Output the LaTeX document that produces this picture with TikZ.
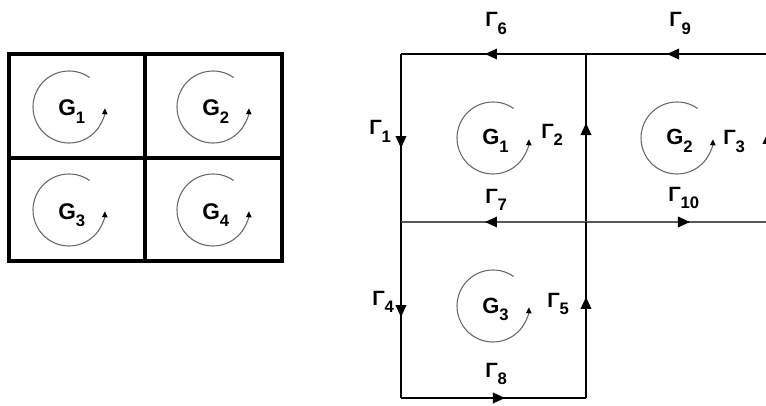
\documentclass[tikz,border=0pt]{standalone}
\usepackage{fontspec}
\setmainfont{Liberation Sans}
\usetikzlibrary{arrows.meta,decorations.markings}
\newcommand\lab[3]{{\fontsize{#3}{#3}\selectfont\bfseries #1}\raisebox{-5.5pt}{\fontsize{12.5}{13}\selectfont\bfseries #2}}
\begin{document}
\begin{tikzpicture}[x=0.75pt,y=-0.75pt,
  edge/.style={line width=1pt,draw=black},
  midedge/.style={line width=1pt,draw=black!65},
  marr/.style={postaction={decorate},decoration={markings,mark=at position #1 with {\arrow[black]{Triangle[length=9pt,width=8pt]}}}},
  rot/.style={draw=black!60,line width=0.8pt,-{Triangle[length=4.5pt,width=4pt,black]}},
  txt/.style={inner sep=0pt,anchor=base west},
  thick grid/.style={line width=2.3pt,draw=black}]
\useasboundingbox (0,0) rectangle (766,406);
\clip (0,0) rectangle (766,406);
% ---------- left grid ----------
\coordinate (ltl) at (9,54);
\coordinate (ltm) at (145,54);
\coordinate (ltr) at (282,54);
\coordinate (lml) at (9,158);
\coordinate (lmr) at (282,158);
\coordinate (lbl) at (9,261);
\coordinate (lbm) at (145,261);
\coordinate (lbr) at (282,261);
\draw[thick grid] (ltl) rectangle (lbr);
\draw[thick grid] (ltm) -- (lbm);
\draw[thick grid] (lml) -- (lmr);
\coordinate (c1) at (69,107);
\coordinate (c2) at (213,107);
\coordinate (c3) at (69,210);
\coordinate (c4) at (213,210);
\foreach \c in {c1,c2,c3,c4}
  \draw[rot] (\c) ++(55:27pt) arc[start angle=55,end angle=358,radius=27pt];
\node[txt] (g1) at (58,116) {\lab{G}{1}{17}};
\node[txt] (g2) at (202,116) {\lab{G}{2}{17}};
\node[txt] (g3) at (58,219) {\lab{G}{3}{17}};
\node[txt] (g4) at (202,219) {\lab{G}{4}{17}};
% ---------- right grid ----------
\coordinate (A) at (401,54);
\coordinate (B) at (586,54);
\coordinate (C) at (768,54);
\coordinate (D) at (401,222);
\coordinate (E) at (586,222);
\coordinate (F) at (768,222);
\coordinate (H) at (401,398);
\coordinate (I) at (586,398);
\draw[edge,marr=0.546] (B) -- (A);
\draw[edge,marr=0.555] (C) -- (B);
\draw[edge,marr=0.56] (A) -- (D);
\draw[edge,marr=0.589] (E) -- (B);
\draw[midedge,marr=0.546] (E) -- (D);
\draw[midedge,marr=0.571] (E) -- (F);
\draw[edge,marr=0.536] (F) -- (C);
\draw[edge,marr=0.54] (D) -- (H);
\draw[edge,marr=0.574] (I) -- (E);
\draw[edge,marr=0.562] (H) -- (I);
\coordinate (r1) at (493,138);
\coordinate (r2) at (677,138);
\coordinate (r3) at (493,306);
\foreach \c in {r1,r2,r3}
  \draw[rot] (\c) ++(55:27pt) arc[start angle=55,end angle=358,radius=27pt];
\node[txt] (G1) at (482,145) {\lab{G}{1}{16.5}};
\node[txt] (G2) at (666,145) {\lab{G}{2}{16.5}};
\node[txt] (G3) at (482,313) {\lab{G}{3}{16.5}};
\node[txt] (t6) at (485,27) {\lab{Γ}{6}{15.5}};
\node[txt] (t9) at (669,27) {\lab{Γ}{9}{15.5}};
\node[txt] (t1) at (369,135) {\lab{Γ}{1}{15.5}};
\node[txt] (t2) at (541,138) {\lab{Γ}{2}{15.5}};
\node[txt] (t3) at (723,145) {\lab{Γ}{3}{15.5}};
\node[txt] (t7) at (485,203) {\lab{Γ}{7}{15.5}};
\node[txt] (t10) at (668,201) {\lab{Γ}{10}{15.5}};
\node[txt] (t4) at (372,305) {\lab{Γ}{4}{15.5}};
\node[txt] (t5) at (547,307) {\lab{Γ}{5}{15.5}};
\node[txt] (t8) at (485,377) {\lab{Γ}{8}{15.5}};
\end{tikzpicture}
\end{document}
